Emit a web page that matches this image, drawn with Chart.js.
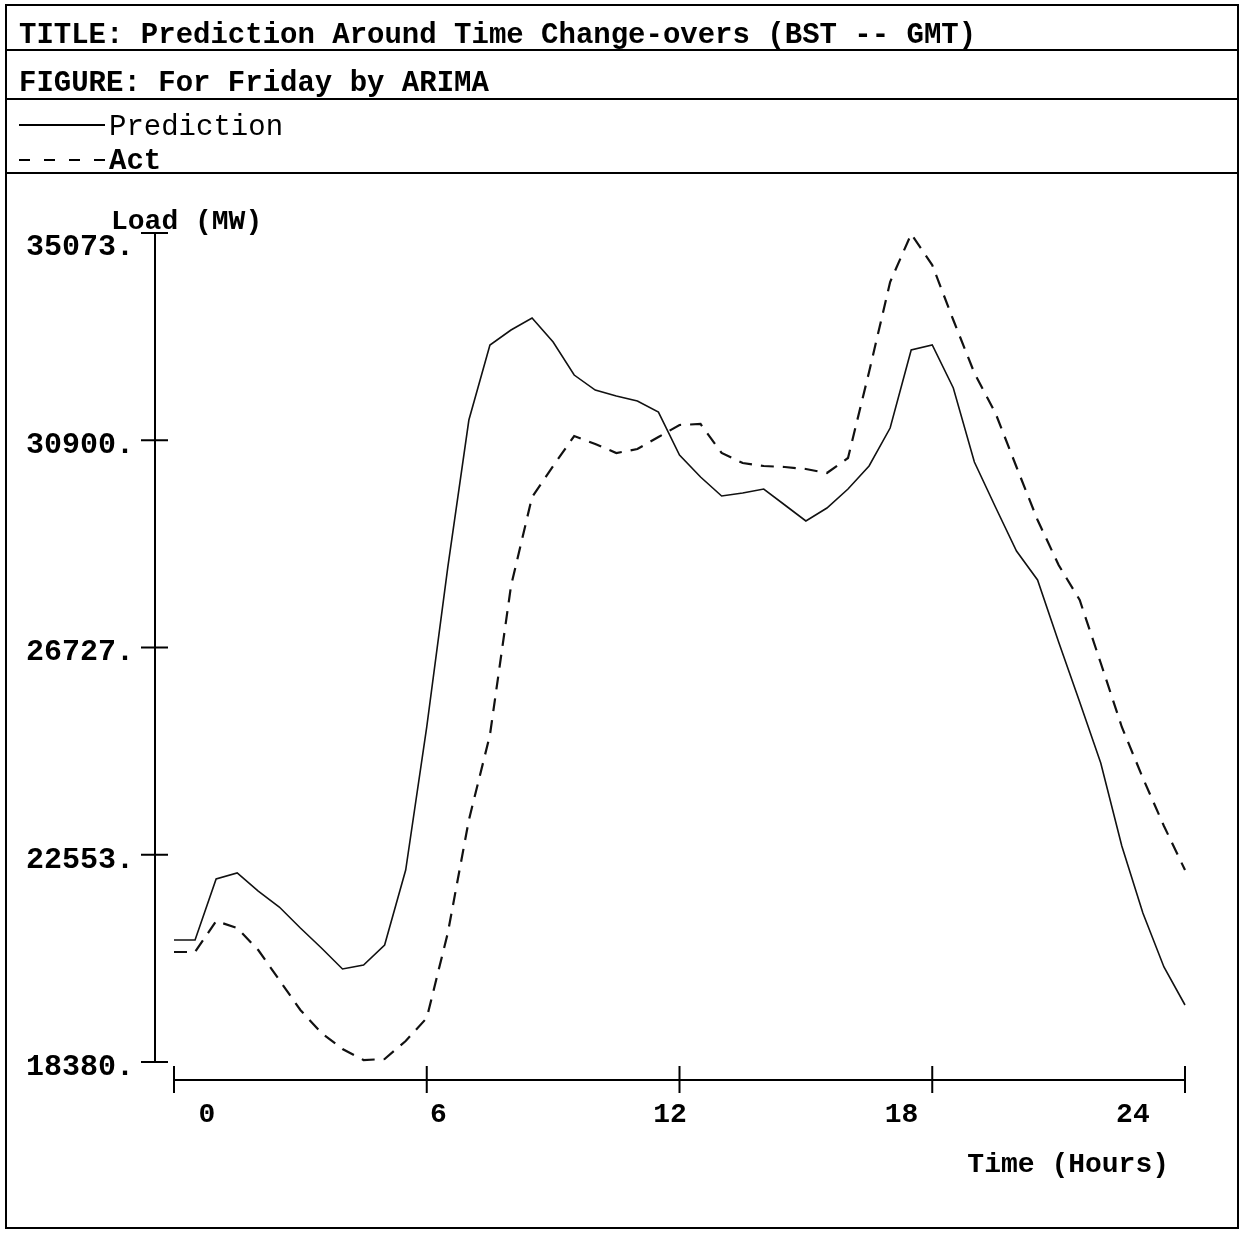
<!DOCTYPE html>
<html>
<head>
<meta charset="utf-8">
<script src="https://cdn.jsdelivr.net/npm/chart.js@4/dist/chart.umd.min.js"></script>
<style>
  body { margin: 0; background: #fff; }
  #wrap { position: relative; width: 1243px; height: 1238px; overflow: hidden; }
  #c { position: absolute; left: 0; top: 0; }
  .frame { position: absolute; left: 5px; top: 4px; width: 1234px; height: 1225px;
           border: 2px solid #000; box-sizing: border-box; pointer-events: none; }
  .rule { position: absolute; left: 5px; width: 1234px; height: 2px; background: #000; }
  .txt { position: absolute; font-family: "Liberation Mono", "DejaVu Sans Mono", monospace;
         font-size: 29px; line-height: 29px; font-weight: bold; white-space: pre; color: #000; }
  .key { position: absolute; left: 19px; width: 86px; }
  .key.solid { height: 1.5px; background: #000; }
  .key.dash { height: 2px;
              background: repeating-linear-gradient(to right, #000 0 11px, transparent 11px 25px); }
</style>
</head>
<body>
<div id="wrap">
  <canvas id="c" width="1243" height="1238"></canvas>
  <div class="frame"></div>
  <div class="rule" style="top:49px"></div>
  <div class="rule" style="top:98px"></div>
  <div class="rule" style="top:172px"></div>
  <div class="txt" style="left:19px;top:21px">TITLE: Prediction Around Time Change-overs (BST -- GMT)</div>
  <div class="txt" style="left:19px;top:69px">FIGURE: For Friday by ARIMA</div>
  <div class="key solid" style="top:124px"></div>
  <div class="txt" style="left:109px;top:113px;font-weight:normal">Prediction</div>
  <div class="key dash" style="top:159px"></div>
  <div class="txt" style="left:109px;top:147px">Act</div>
</div>
<script>
// — Data (half-hourly) —
const hours = [0, 0.5, 1, 1.5, 2, 2.5, 3, 3.5, 4, 4.5, 5, 5.5, 6, 6.5, 7, 7.5, 8, 8.5,
  9, 9.5, 10, 10.5, 11, 11.5, 12, 12.5, 13, 13.5, 14, 14.5, 15, 15.5, 16, 16.5,
  17, 17.5, 18, 18.5, 19, 19.5, 20, 20.5, 21, 21.5, 22, 22.5, 23, 23.5, 24];

const prediction = [20837, 20837, 22065, 22186, 21823, 21501, 21078, 20676, 20253, 20333,
  20736, 22246, 25126, 28347, 31307, 32818, 33120, 33361, 32878, 32213, 31911, 31791,
  31690, 31468, 30603, 30160, 29777, 29837, 29918, 29596, 29274, 29535, 29918, 30381,
  31146, 32717, 32818, 31952, 30462, 29555, 28669, 28086, 26837, 25629, 24401, 22729,
  21380, 20293, 19528];

const actual = [20595, 20595, 21219, 21078, 20635, 20031, 19427, 18964, 18642, 18420,
  18440, 18803, 19266, 20978, 23253, 24964, 27965, 29757, 30381, 30985, 30824, 30643,
  30723, 30965, 31207, 31227, 30643, 30441, 30381, 30361, 30321, 30240, 30542, 32274,
  34086, 35053, 34428, 33321, 32254, 31448, 30361, 29294, 28388, 27683, 26414, 25126,
  24099, 23132, 22246];

const yTicks      = [18380, 22553, 26727, 30900, 35073];
const yTickLabels = ['18380.', '22553.', '26727.', '30900.', '35073.'];
const xTicks      = [0, 6, 12, 18, 24];
const xTickLabels = ['0', '6', '12', '18', '24'];
const yTitle = 'Load (MW)';
const xTitle = 'Time (Hours)';

const FONT = 'bold 28px "Liberation Mono", "DejaVu Sans Mono", monospace';
const TICK_FONT = 'bold 30px "Liberation Mono", "DejaVu Sans Mono", monospace';

// — Axes drawn off the plot area, in the old plotter style —
const plotterAxes = {
  id: 'plotterAxes',
  afterDraw(chart) {
    const { ctx, chartArea: a, scales } = chart;
    const x = scales.x, y = scales.y, xl = scales.xl;
    ctx.save();
    ctx.strokeStyle = '#000';
    ctx.fillStyle = '#000';
    ctx.lineWidth = 2;

    // y axis
    const yx = a.left - 19;
    ctx.beginPath();
    ctx.moveTo(yx, y.getPixelForValue(yTicks[yTicks.length - 1]));
    ctx.lineTo(yx, y.getPixelForValue(yTicks[0]));
    yTicks.forEach(v => {
      const py = y.getPixelForValue(v);
      ctx.moveTo(yx - 14, py);
      ctx.lineTo(yx + 13, py);
    });
    ctx.stroke();

    ctx.font = TICK_FONT;
    ctx.textAlign = 'right';
    ctx.textBaseline = 'alphabetic';
    yTicks.forEach((v, i) => {
      const py = Math.max(y.getPixelForValue(v) + 3, a.top + 12);
      ctx.fillText(yTickLabels[i], yx - 21, py + 10);
    });
    ctx.font = FONT;
    ctx.textAlign = 'left';
    ctx.fillText(yTitle, 111, a.top - 13 + 9);

    // x axis
    const xy = y.getPixelForValue(yTicks[0]) + 18;
    ctx.beginPath();
    ctx.moveTo(x.getPixelForValue(xTicks[0]), xy);
    ctx.lineTo(x.getPixelForValue(xTicks[xTicks.length - 1]), xy);
    xTicks.forEach(v => {
      const px = x.getPixelForValue(v);
      ctx.moveTo(px, xy - 14);
      ctx.lineTo(px, xy + 13);
    });
    ctx.stroke();

    ctx.textAlign = 'center';
    xTicks.forEach((v, i) => {
      ctx.fillText(xTickLabels[i], xl.getPixelForValue(v), xy + 32 + 10);
    });
    ctx.textAlign = 'right';
    ctx.fillText(xTitle, 1169, xy + 82 + 10);
    ctx.restore();
  }
};

const pts = vals => hours.map((h, i) => ({ x: h, y: vals[i] }));

new Chart(document.getElementById('c').getContext('2d'), {
  type: 'line',
  data: {
    datasets: [
      { label: 'Prediction', data: pts(prediction), borderColor: '#111',
        borderWidth: 1.6, pointRadius: 0, tension: 0, clip: false },
      { label: 'Act', data: pts(actual), borderColor: '#111', borderWidth: 2.2,
        borderDash: [13, 9], pointRadius: 0, tension: 0, clip: false }
    ]
  },
  options: {
    responsive: false,
    animation: false,
    layout: { padding: { left: 174, right: 58, top: 233, bottom: 176 } },
    plugins: { legend: { display: false }, tooltip: { enabled: false } },
    scales: {
      x:  { type: 'linear', min: 0, max: 24, display: false },
      // label positions of the original plotter run on a slightly different scale
      xl: { type: 'linear', axis: 'x', min: -0.855, max: 25.35, display: false },
      y:  { type: 'linear', min: 18380, max: 35073, display: false }
    }
  },
  plugins: [plotterAxes]
});
</script>
</body>
</html>
